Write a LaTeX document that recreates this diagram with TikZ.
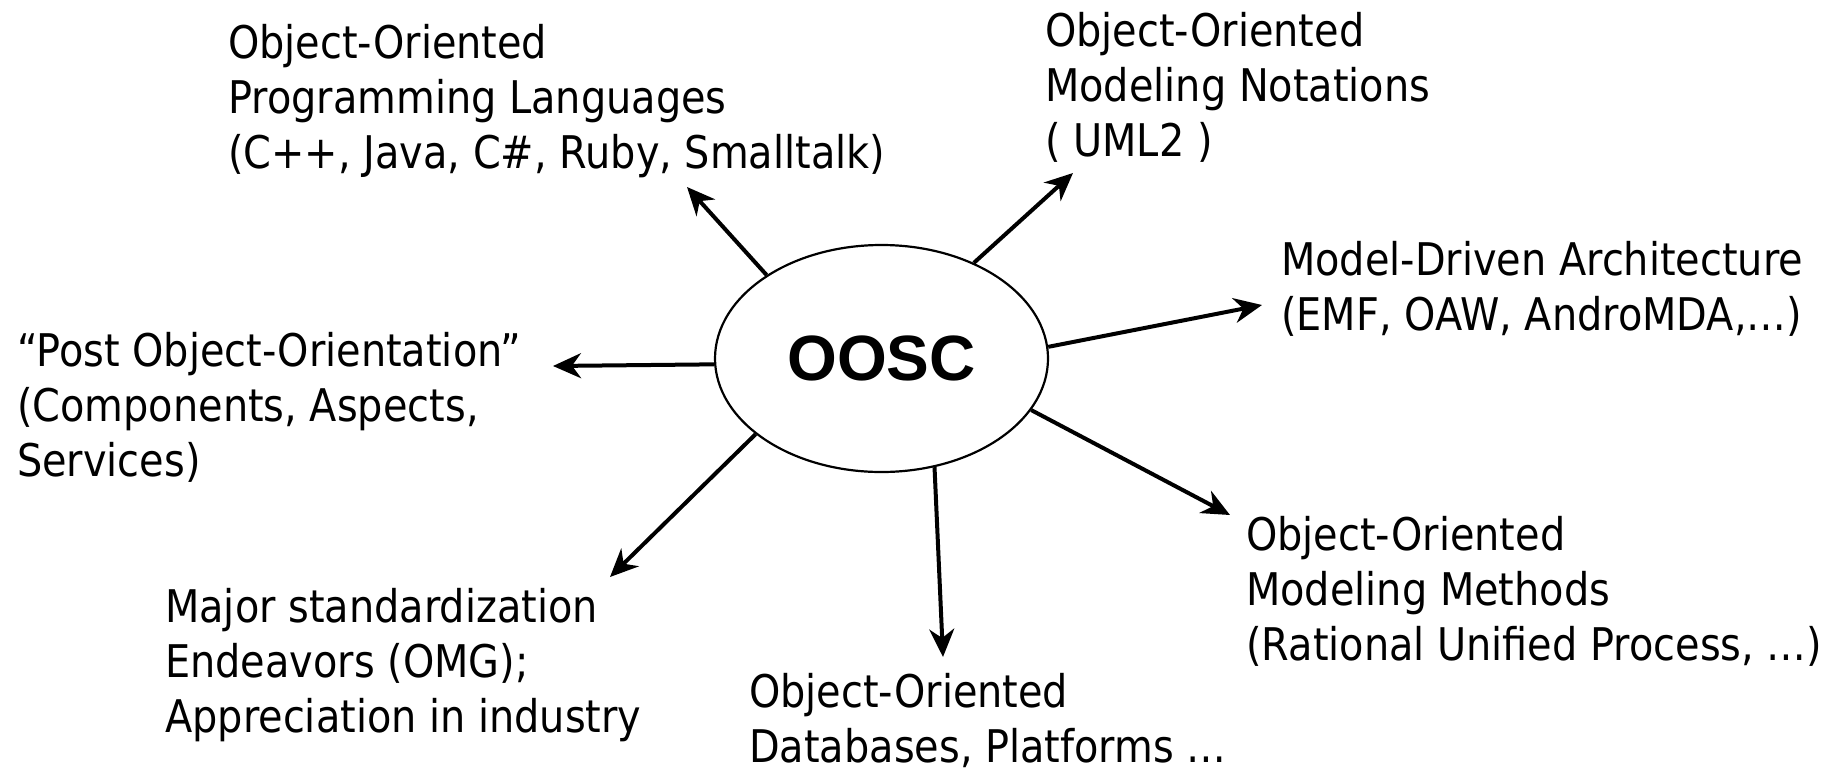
\documentclass[tikz,border=0pt]{standalone}
\usepackage{fontspec}
\setmainfont{DejaVu Sans}[FakeStretch=0.885]
\newfontfamily\hubfont{Liberation Sans}
\usetikzlibrary{arrows.meta,shapes.geometric}

\begin{document}
\begin{tikzpicture}[x=1pt,y=-1pt,
    hub/.style={ellipse,draw,line width=2.2pt,minimum width=333pt,minimum height=227pt,
      inner sep=0pt,font=\hubfont\bfseries\fontsize{64}{64}\selectfont},
    topic/.style={anchor=north west,align=left,inner sep=0pt,font=\fontsize{45}{55}\selectfont},
    arr/.style={line width=4pt,-{Stealth[length=28pt,width=25pt,inset=9pt]}}]
  \useasboundingbox (0,0) rectangle (1843,771);
  % the centre
  \node[hub] (oosc) at (881.5,358.5) {OOSC};
  % topics round it
  \node[topic] (lang) at (228,23.8) {Object-Oriented\\Programming Languages\\(C++, Java, C\#, Ruby, Smalltalk)};
  \node[topic] (uml) at (1045,11.8) {Object-Oriented\\Modeling Notations\\( UML2 )};
  \node[topic] (mda) at (1281,240.8) {Model-Driven Architecture\\(EMF, OAW, AndroMDA,…)};
  \node[topic] (post) at (17,331.8) {“Post Object-Orientation”\\(Components, Aspects,\\Services)};
  \node[topic] (meth) at (1246,515.8) {Object-Oriented\\Modeling Methods\\(Rational Unified Process, …)};
  \node[topic] (stdz) at (165,587.8) {Major standardization\\Endeavors (OMG);\\Appreciation in industry};
  \node[topic] (dbs) at (749,672.8) {Object-Oriented\\Databases, Platforms …};
  % arrow ends
  \coordinate (tlang) at (687,187);
  \coordinate (tpost) at (553,366);
  \coordinate (tuml) at (1073,173);
  \coordinate (tmda) at (1262,305);
  \coordinate (tmeth) at (1230,515);
  \coordinate (tdbs) at (943,657);
  \coordinate (tstdz) at (610,577);
  % arrows
  \foreach \a/\t in {144.8/tlang,182.5/tpost,46.8/tuml,4/tmda,341/tmeth,296.5/tdbs,211.6/tstdz}
    \draw[arr] (oosc.\a) -- (\t);
\end{tikzpicture}
\end{document}
